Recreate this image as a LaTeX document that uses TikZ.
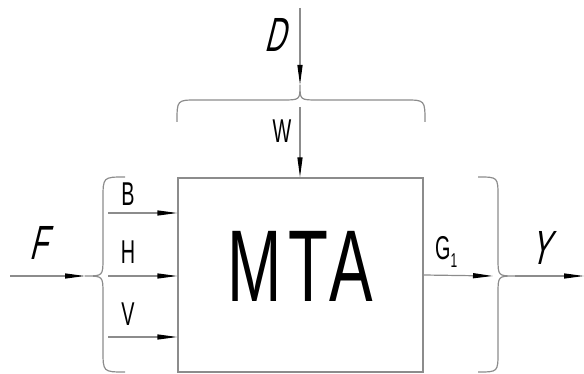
\documentclass[tikz,border=0pt]{standalone}
\usepackage{fontspec}
\usepackage{tikz}
\usetikzlibrary{arrows.meta}
\newfontfamily\gost[FakeStretch=0.6]{Liberation Sans}
\newfontfamily\gostbig[FakeStretch=0.64,LetterSpace=6]{Liberation Sans}
\newfontfamily\gostit[FakeStretch=0.6,FakeSlant=0.25]{Liberation Sans}
\tikzset{
  wire/.style={draw=black!45,line width=1.2pt},
  arr/.style={wire,-{Triangle[length=20pt,width=5pt,color=black]}},
  lbl/.style={font=\gost\fontsize{33}{33}\selectfont,inner sep=0pt,anchor=base},
  big/.style={font=\gostit\fontsize{48}{48}\selectfont,inner sep=0pt,anchor=base}
}
\begin{document}
\begin{tikzpicture}[x=1pt,y=-1pt]
\useasboundingbox (0,0) rectangle (584,374);
% block:
\node[wire,minimum width=245pt,minimum height=194pt,inner sep=0pt,text depth=18pt,
  font=\gostbig\fontsize{102}{102}\selectfont] (mta) at (300.5,275) {MTA};
% points:
\coordinate (fIn) at (10,276);
\coordinate (lTip) at (85,276);
\coordinate (bIn) at (108,213);
\coordinate (hIn) at (108,276);
\coordinate (vIn) at (108,337);
\coordinate (dIn) at (300,8);
\coordinate (tTip) at (300,85);
\coordinate (wIn) at (300,107);
\coordinate (gEnd) at (493,276);
\coordinate (rTip) at (515,276);
\coordinate (yOut) at (584,276);
% braces:
\path[wire] (125,177) .. controls (103,177) .. (103,199) -- (103,258)
  .. controls (103,276) .. (lTip) .. controls (103,276) .. (103,294)
  -- (103,350) .. controls (103,372) .. (125,372);
\path[wire] (177,122) .. controls (177,100) .. (197,100) -- (282,100)
  .. controls (300,100) .. (tTip) .. controls (300,100) .. (318,100)
  -- (405,100) .. controls (425,100) .. (425,122);
\path[wire] (478,177) .. controls (498,177) .. (498,197) -- (498,258)
  .. controls (498,276) .. (rTip) .. controls (498,276) .. (498,294)
  -- (498,352) .. controls (498,372) .. (478,372);
% arrows:
\draw[arr] (fIn) -- (lTip);
\draw[arr] (bIn) -- (bIn -| mta.west);
\draw[arr] (hIn) -- (hIn -| mta.west);
\draw[arr] (vIn) -- (vIn -| mta.west);
\draw[arr] (dIn) -- (tTip);
\draw[arr] (wIn) -- (wIn |- mta.north);
\draw[arr] (mta.east) -- (gEnd);
\draw[arr] (rTip) -- (yOut);
% labels:
\node[big] (fLbl) at (38,260) {F};
\node[big] (dLbl) at (275,52) {D};
\node[big] (yLbl) at (540,265) {Y};
\node[lbl] (bLbl) at (128,206) {B};
\node[lbl] (hLbl) at (128,264) {H};
\node[lbl] (vLbl) at (128,326) {V};
\node[lbl] (wLbl) at (282,143) {W};
\node[lbl,anchor=base west] (gLbl) at (435,260) {G\raisebox{-8pt}{\fontsize{20}{20}\selectfont 1}};
\end{tikzpicture}
\end{document}
